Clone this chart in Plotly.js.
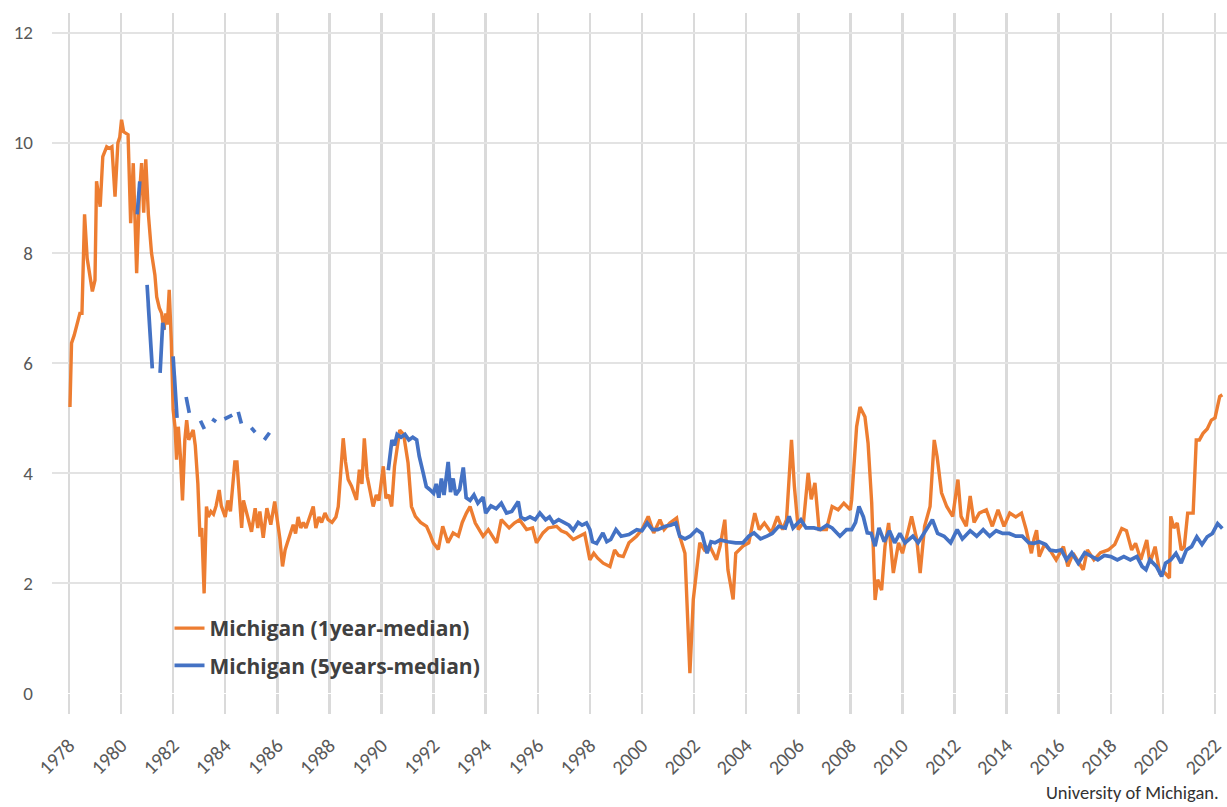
<!DOCTYPE html>
<html>
<head>
<meta charset="utf-8">
<script src="https://cdn.plot.ly/plotly-3.0.1.min.js"></script>
<style>html,body{margin:0;padding:0;background:#fff;}#chart{width:1227px;height:807px;}</style>
</head>
<body>
<div id="chart"></div>
<script>
// Michigan 1-year median inflation expectations (decimal year, %)
const oneYearX = [1978.04,1978.1,1978.2,1978.3,1978.42,1978.5,1978.6,1978.7,1978.8,1978.9,1979.0,1979.06,1979.15,1979.2,1979.3,1979.45,1979.55,1979.65,1979.77,1979.88,1979.95,1980.02,1980.1,1980.15,1980.27,1980.37,1980.47,1980.6,1980.7,1980.79,1980.87,1980.95,1981.05,1981.17,1981.3,1981.37,1981.47,1981.56,1981.65,1981.72,1981.78,1981.85,1981.93,1982.0,1982.08,1982.13,1982.2,1982.28,1982.36,1982.45,1982.52,1982.6,1982.68,1982.77,1982.85,1982.95,1983.03,1983.1,1983.19,1983.28,1983.35,1983.45,1983.55,1983.65,1983.77,1983.85,1984.0,1984.1,1984.2,1984.3,1984.37,1984.45,1984.55,1984.63,1984.7,1984.8,1984.9,1985.01,1985.15,1985.25,1985.33,1985.46,1985.6,1985.75,1985.9,1986.0,1986.1,1986.2,1986.3,1986.38,1986.5,1986.61,1986.7,1986.8,1986.9,1987.0,1987.1,1987.2,1987.38,1987.48,1987.6,1987.7,1987.83,1987.95,1988.1,1988.25,1988.34,1988.53,1988.62,1988.72,1988.85,1989.04,1989.15,1989.25,1989.34,1989.45,1989.55,1989.68,1989.8,1989.9,1990.07,1990.17,1990.28,1990.39,1990.5,1990.7,1990.85,1991.02,1991.15,1991.3,1991.5,1991.73,1991.85,1991.99,1992.18,1992.35,1992.55,1992.75,1992.95,1993.1,1993.26,1993.4,1993.6,1993.9,1994.1,1994.42,1994.6,1994.9,1995.1,1995.3,1995.57,1995.8,1995.95,1996.2,1996.4,1996.72,1996.9,1997.1,1997.36,1997.6,1997.8,1998.0,1998.15,1998.3,1998.51,1998.77,1998.95,1999.1,1999.28,1999.5,1999.79,2000.0,2000.24,2000.45,2000.69,2000.85,2001.07,2001.33,2001.45,2001.65,2001.84,2001.97,2002.05,2002.22,2002.4,2002.6,2002.86,2003.0,2003.18,2003.3,2003.5,2003.6,2003.88,2004.1,2004.33,2004.5,2004.7,2004.97,2005.2,2005.4,2005.55,2005.74,2005.85,2006.0,2006.2,2006.38,2006.5,2006.64,2006.8,2007.08,2007.3,2007.53,2007.75,2008.0,2008.05,2008.17,2008.24,2008.37,2008.56,2008.68,2008.82,2008.95,2009.05,2009.2,2009.33,2009.47,2009.65,2009.85,2010.0,2010.23,2010.35,2010.55,2010.68,2010.85,2011.06,2011.22,2011.33,2011.5,2011.7,2011.93,2012.13,2012.25,2012.45,2012.6,2012.75,2012.95,2013.22,2013.45,2013.67,2013.9,2014.12,2014.35,2014.57,2014.75,2014.95,2015.05,2015.15,2015.25,2015.45,2015.66,2015.9,2016.18,2016.35,2016.55,2016.75,2016.94,2017.1,2017.35,2017.6,2017.9,2018.15,2018.42,2018.6,2018.8,2018.95,2019.15,2019.38,2019.5,2019.7,2019.88,2020.08,2020.25,2020.3,2020.42,2020.55,2020.7,2020.82,2020.95,2021.16,2021.28,2021.4,2021.54,2021.7,2021.86,2022.0,2022.18,2022.28];
const oneYearY = [5.2,6.36,6.5,6.7,6.9,6.9,8.7,7.9,7.56,7.3,7.5,9.3,9.0,8.84,9.75,9.93,9.9,9.93,9.02,10.0,10.1,10.42,10.2,10.18,10.15,8.54,9.63,7.63,9.0,9.63,8.73,9.7,8.7,8.0,7.6,7.2,7.0,6.9,6.6,6.9,6.7,7.33,6.4,5.15,4.8,4.24,4.84,4.3,3.5,4.6,4.96,4.6,4.7,4.78,4.5,3.8,2.84,3.0,1.81,3.39,3.2,3.3,3.25,3.4,3.69,3.4,3.2,3.5,3.3,3.8,4.2,4.2,3.4,3.0,3.5,3.3,3.1,2.93,3.36,3.0,3.3,2.82,3.36,3.06,3.48,3.15,2.8,2.3,2.6,2.72,2.9,3.06,2.9,3.2,3.0,3.1,3.0,3.15,3.39,3.0,3.2,3.1,3.27,3.15,3.1,3.2,3.39,4.63,4.2,3.88,3.76,3.51,4.06,3.8,4.63,3.94,3.7,3.39,3.6,3.5,4.12,3.54,3.6,3.39,4.12,4.78,4.7,4.18,3.39,3.21,3.1,3.03,2.9,2.73,2.61,3.03,2.73,2.91,2.85,3.1,3.27,3.39,3.09,2.85,2.97,2.73,3.15,3.0,3.09,3.15,2.97,3.0,2.73,2.91,3.0,3.03,2.95,2.91,2.79,2.85,2.9,2.42,2.54,2.45,2.36,2.3,2.6,2.5,2.48,2.73,2.85,2.97,3.21,2.91,3.15,2.97,3.09,3.18,2.85,2.54,0.36,1.7,2.06,2.73,2.6,2.67,2.42,2.67,3.15,2.24,1.7,2.54,2.67,2.73,3.27,2.97,3.09,2.91,3.21,2.97,3.15,4.6,3.76,2.97,3.1,4.0,3.52,3.82,2.97,2.97,3.39,3.33,3.45,3.33,3.51,4.36,4.84,5.2,5.02,4.54,3.45,1.69,2.06,1.87,2.67,3.09,2.18,2.73,2.54,2.97,3.21,2.79,2.18,3.03,3.39,4.6,4.3,3.64,3.39,3.21,3.88,3.21,3.03,3.58,3.1,3.27,3.33,3.03,3.33,3.03,3.27,3.2,3.27,2.97,2.54,2.8,2.96,2.48,2.7,2.6,2.42,2.66,2.3,2.54,2.4,2.24,2.6,2.42,2.55,2.6,2.7,2.99,2.95,2.6,2.72,2.42,2.78,2.36,2.66,2.18,2.18,2.09,3.21,3.0,3.09,2.6,2.66,3.27,3.27,4.6,4.6,4.72,4.8,4.96,5.0,5.39,5.42];

// Michigan 5-year median inflation expectations (decimal year, %); null = no survey
const fiveYearX = [1980.62,1980.72,1980.8,1981.0,1981.2,1981.3,1981.5,1981.6,1981.65,1981.8,1982.0,1982.15,1982.3,1982.5,1982.62,1982.8,1983.05,1983.2,1983.35,1983.5,1983.65,1983.8,1983.97,1984.27,1984.4,1984.5,1984.62,1984.8,1985.0,1985.15,1985.3,1985.5,1985.7,1986.0,1990.26,1990.4,1990.5,1990.6,1990.75,1990.9,1991.05,1991.2,1991.35,1991.45,1991.6,1991.72,1991.85,1992.0,1992.1,1992.2,1992.3,1992.4,1992.56,1992.65,1992.75,1992.85,1993.0,1993.14,1993.25,1993.4,1993.55,1993.7,1993.9,1994.0,1994.2,1994.4,1994.6,1994.8,1995.0,1995.25,1995.35,1995.5,1995.7,1995.9,1996.08,1996.3,1996.45,1996.6,1996.8,1997.0,1997.2,1997.36,1997.55,1997.7,1997.87,1998.0,1998.1,1998.26,1998.4,1998.5,1998.65,1998.8,1999.0,1999.2,1999.5,1999.8,2000.0,2000.2,2000.4,2000.6,2000.9,2001.1,2001.3,2001.45,2001.65,2001.85,2002.1,2002.3,2002.5,2002.65,2002.8,2003.0,2003.3,2003.6,2003.88,2004.1,2004.3,2004.55,2004.8,2005.0,2005.25,2005.5,2005.65,2005.8,2006.1,2006.3,2006.6,2006.85,2007.1,2007.3,2007.6,2007.85,2008.05,2008.2,2008.33,2008.5,2008.65,2008.8,2008.95,2009.1,2009.3,2009.5,2009.7,2009.9,2010.1,2010.4,2010.6,2010.85,2011.15,2011.35,2011.6,2011.85,2012.1,2012.3,2012.6,2012.85,2013.1,2013.35,2013.6,2013.85,2014.1,2014.35,2014.6,2014.85,2015.05,2015.25,2015.5,2015.66,2015.9,2016.1,2016.3,2016.5,2016.75,2017.0,2017.25,2017.5,2017.75,2018.0,2018.25,2018.5,2018.75,2019.0,2019.2,2019.35,2019.5,2019.75,2019.95,2020.1,2020.3,2020.5,2020.7,2020.9,2021.1,2021.3,2021.5,2021.7,2021.9,2022.1,2022.28];
const fiveYearY = [8.7,9.3,null,7.42,5.9,null,5.82,6.73,6.6,null,6.12,5.0,null,5.38,5.09,null,4.95,4.8,null,4.98,4.93,null,4.98,5.05,null,5.11,4.9,null,4.82,4.74,null,4.6,4.73,null,4.05,4.6,4.5,4.7,4.65,4.7,4.6,4.65,4.6,4.3,4.0,3.75,3.7,3.63,3.8,3.55,3.9,3.6,4.2,3.65,3.9,3.6,3.7,4.1,3.55,3.5,3.6,3.45,3.56,3.27,3.4,3.35,3.45,3.27,3.3,3.48,3.2,3.15,3.2,3.15,3.27,3.15,3.2,3.09,3.15,3.1,3.05,2.96,3.1,3.05,3.09,2.97,2.75,2.72,2.85,2.91,2.75,2.79,2.97,2.85,2.88,2.97,2.95,3.09,2.97,2.97,3.03,3.05,3.09,2.85,2.8,2.85,2.97,2.9,2.54,2.75,2.73,2.78,2.75,2.73,2.73,2.85,2.91,2.8,2.85,2.9,3.03,3.0,3.21,3.0,3.15,3.0,3.0,2.97,3.05,3.0,2.85,2.97,2.97,3.1,3.39,3.2,2.91,2.9,2.67,3.0,2.75,2.95,2.73,2.9,2.73,2.85,2.73,2.91,3.15,2.9,2.85,2.73,2.97,2.8,2.95,2.85,2.97,2.85,2.95,2.9,2.9,2.85,2.85,2.73,2.72,2.75,2.7,2.6,2.58,2.6,2.42,2.55,2.36,2.55,2.48,2.42,2.5,2.48,2.42,2.48,2.42,2.48,2.3,2.24,2.42,2.3,2.12,2.36,2.42,2.54,2.36,2.6,2.66,2.84,2.7,2.84,2.9,3.08,2.99];

const seriesNames = ['Michigan (1year-median)', 'Michigan (5years-median)'];
const seriesColors = ['#ED7D31', '#4472C4'];
const sourceNote = 'University of Michigan.';

const FONT = 'Carlito, Lato, "Open Sans", sans-serif';
const LEGEND_FONT = '"Open Sans", Lato, sans-serif';

const traces = [
  {x: oneYearX, y: oneYearY, name: seriesNames[0], type: 'scatter', mode: 'lines',
   line: {color: seriesColors[0], width: 3.4}, legendgroup: 'a'},
  {x: fiveYearX, y: fiveYearY, name: seriesNames[1], type: 'scatter', mode: 'lines',
   connectgaps: false, line: {color: seriesColors[1], width: 3.7}, legendgroup: 'b'}
];

const layout = {
  width: 1227, height: 807,
  margin: {l: 52, r: 0, t: 13, b: 114},
  paper_bgcolor: '#ffffff', plot_bgcolor: '#ffffff',
  font: {family: FONT, color: '#595959'},
  showlegend: true,
  legend: {x: 0.1, y: 0.125, xanchor: 'left', yanchor: 'top', bgcolor: 'rgba(0,0,0,0)',
           font: {family: LEGEND_FONT, size: 21, color: '#404040', weight: 'bold'},
           traceorder: 'grouped', tracegroupgap: 7},
  xaxis: {range: [1977.35, 2022.46], tick0: 1978, dtick: 2, tickangle: -45,
          showgrid: true, gridcolor: '#dadada', gridwidth: 2.5,
          ticks: 'outside', ticklen: 20, tickwidth: 2.5, tickcolor: '#dadada',
          ticklabelstandoff: 12,
          zeroline: false, showline: false,
          tickfont: {family: FONT, size: 20, color: '#595959'}},
  yaxis: {range: [0, 12.36], tick0: 0, dtick: 2, showgrid: true, gridcolor: '#e3e3e3', gridwidth: 2,
          zeroline: false, showline: false, ticks: '', ticklabelstandoff: 18,
          tickfont: {family: FONT, size: 19, color: '#595959'}},
  annotations: [{text: sourceNote, xref: 'paper', yref: 'paper', x: 0.995, y: -0.146,
                 xanchor: 'right', yanchor: 'middle', showarrow: false,
                 font: {family: FONT, size: 18.5, color: '#333333'}}]
};

Plotly.newPlot('chart', traces, layout, {displayModeBar: false, staticPlot: true});
</script>
</body>
</html>
